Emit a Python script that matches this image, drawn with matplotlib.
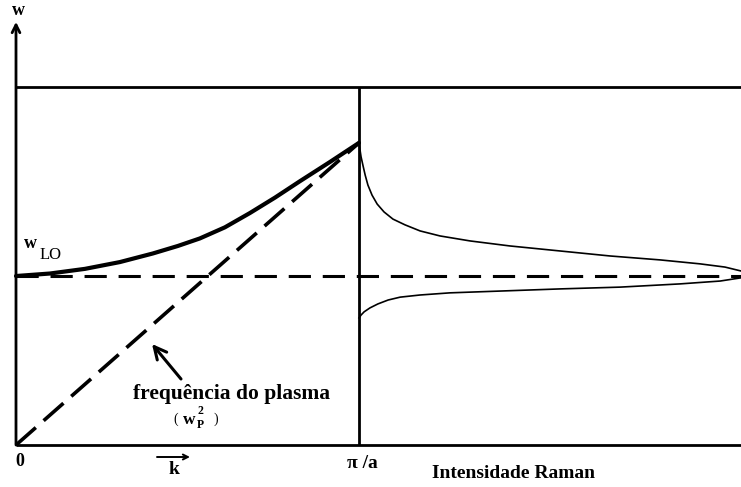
import matplotlib
matplotlib.use("Agg")
import matplotlib.pyplot as plt

plt.rcParams['lines.scale_dashes'] = False
plt.rcParams['font.family'] = ['Liberation Serif', 'DejaVu Serif']

# ---- data (k in units of pi/a; intensity region drawn to the right of pi/a) ----
w_LO = 0.472
w_top = 1.0
w_axis_tip = 1.182

k_dispersion = [0.0, 0.099, 0.201, 0.303, 0.399, 0.472, 0.536, 0.609, 0.682,
                0.755, 0.828, 0.916, 1.0]
w_dispersion = [0.472, 0.479, 0.492, 0.511, 0.535, 0.556, 0.577, 0.608, 0.648,
                0.691, 0.737, 0.791, 0.844]

k_plasma = [0.0, 1.0]
w_plasma = [0.0, 0.844]

x_raman_upper = [1.0, 1.003, 1.006, 1.012, 1.018, 1.026, 1.038, 1.053, 1.073,
                 1.099, 1.134, 1.178, 1.236, 1.324, 1.440, 1.586, 1.732, 1.878,
                 1.994, 2.067, 2.114]
w_raman_upper = [0.844, 0.824, 0.805, 0.779, 0.754, 0.726, 0.698, 0.673, 0.651,
                 0.631, 0.615, 0.598, 0.584, 0.570, 0.556, 0.542, 0.528, 0.517,
                 0.506, 0.497, 0.486]

x_raman_lower = [1.0, 1.006, 1.015, 1.032, 1.055, 1.085, 1.120, 1.178, 1.265,
                 1.411, 1.586, 1.761, 1.936, 2.053, 2.114]
w_raman_lower = [0.355, 0.363, 0.372, 0.383, 0.394, 0.405, 0.413, 0.419, 0.425,
                 0.430, 0.436, 0.441, 0.450, 0.458, 0.467]

x_right = 2.114

# ---- figure ----
W, H = 741, 487
fig = plt.figure(figsize=(W / 100, H / 100), dpi=100)
ax = fig.add_axes([0, 0, 1, 1])
ax.set_xlim(-16 / 343, 725 / 343)
ax.set_ylim((445 - 487) / 358, 445 / 358)
ax.axis('off')

def X(px):
    return (px - 16) / 343

def Y(py):
    return (445 - py) / 358

axlw = 2.0
# frame lines
ax.plot([0, x_right], [0, 0], color='black', lw=axlw, solid_capstyle='butt')
ax.plot([0, x_right], [w_top, w_top], color='black', lw=axlw, solid_capstyle='butt')
ax.plot([1, 1], [0, w_top], color='black', lw=axlw, solid_capstyle='butt')
ax.annotate('', xy=(0, w_axis_tip), xytext=(0, 0),
            arrowprops=dict(arrowstyle='->', lw=axlw, color='black',
                            shrinkA=0, shrinkB=0, mutation_scale=14))

# w_LO dashed level
ax.plot([0, x_right], [w_LO, w_LO], color='black', lw=2.2,
        dashes=(16, 8.5), solid_capstyle='butt')

# dispersion curve
ax.plot(k_dispersion, w_dispersion, color='black', lw=3.0,
        solid_capstyle='round', solid_joinstyle='round')

# plasma frequency dashed line
ax.plot(k_plasma, w_plasma, color='black', lw=2.6, dashes=(19, 7.5))

# Raman intensity curves
ax.plot(x_raman_upper, w_raman_upper, color='black', lw=1.2, solid_joinstyle='round')
ax.plot(x_raman_lower, w_raman_lower, color='black', lw=1.2, solid_joinstyle='round')

# ---- texts ----
bold = dict(fontweight='bold', color='black')
ax.text(X(18.5), Y(11), 'w', fontsize=13, ha='center', va='center', **bold)
ax.text(X(24), Y(243), 'w', fontsize=13, ha='left', va='center', **bold)
ax.text(X(40), Y(255), 'LO', fontsize=12, ha='left', va='center', color='black')
ax.text(X(19.5), Y(461), '0', fontsize=13, ha='center', va='center', **bold)
ax.text(X(173.5), Y(470), 'k', fontsize=14, ha='center', va='center', **bold)
ax.annotate('', xy=(X(190), Y(457)), xytext=(X(157), Y(457)),
            arrowprops=dict(arrowstyle='->', lw=1.4, color='black',
                            shrinkA=0, shrinkB=0, mutation_scale=9))
ax.text(X(362), Y(463), 'π /a', fontsize=14, ha='center', va='center', **bold)
ax.text(X(232), Y(394), 'frequência do plasma', fontsize=15.5, ha='center',
        va='center', **bold)
# ( w_P^2 )
ax.text(X(176), Y(419), '(', fontsize=10, ha='center', va='center', color='black')
ax.text(X(189.5), Y(420), 'w', fontsize=12.5, ha='center', va='center', **bold)
ax.text(X(200.5), Y(411), '2', fontsize=8.5, ha='center', va='center', **bold)
ax.text(X(200.5), Y(425.5), 'P', fontsize=8.5, ha='center', va='center', **bold)
ax.text(X(215.5), Y(419), ')', fontsize=10, ha='center', va='center', color='black')
ax.annotate('', xy=(X(152), Y(344)), xytext=(X(181), Y(379)),
            arrowprops=dict(arrowstyle='->', lw=2.2, color='black',
                            shrinkA=0, shrinkB=0, mutation_scale=22))
ax.text(X(513), Y(474), 'Intensidade Raman', fontsize=14, ha='center',
        va='center', **bold)

fig.savefig('out.png', dpi=100)
